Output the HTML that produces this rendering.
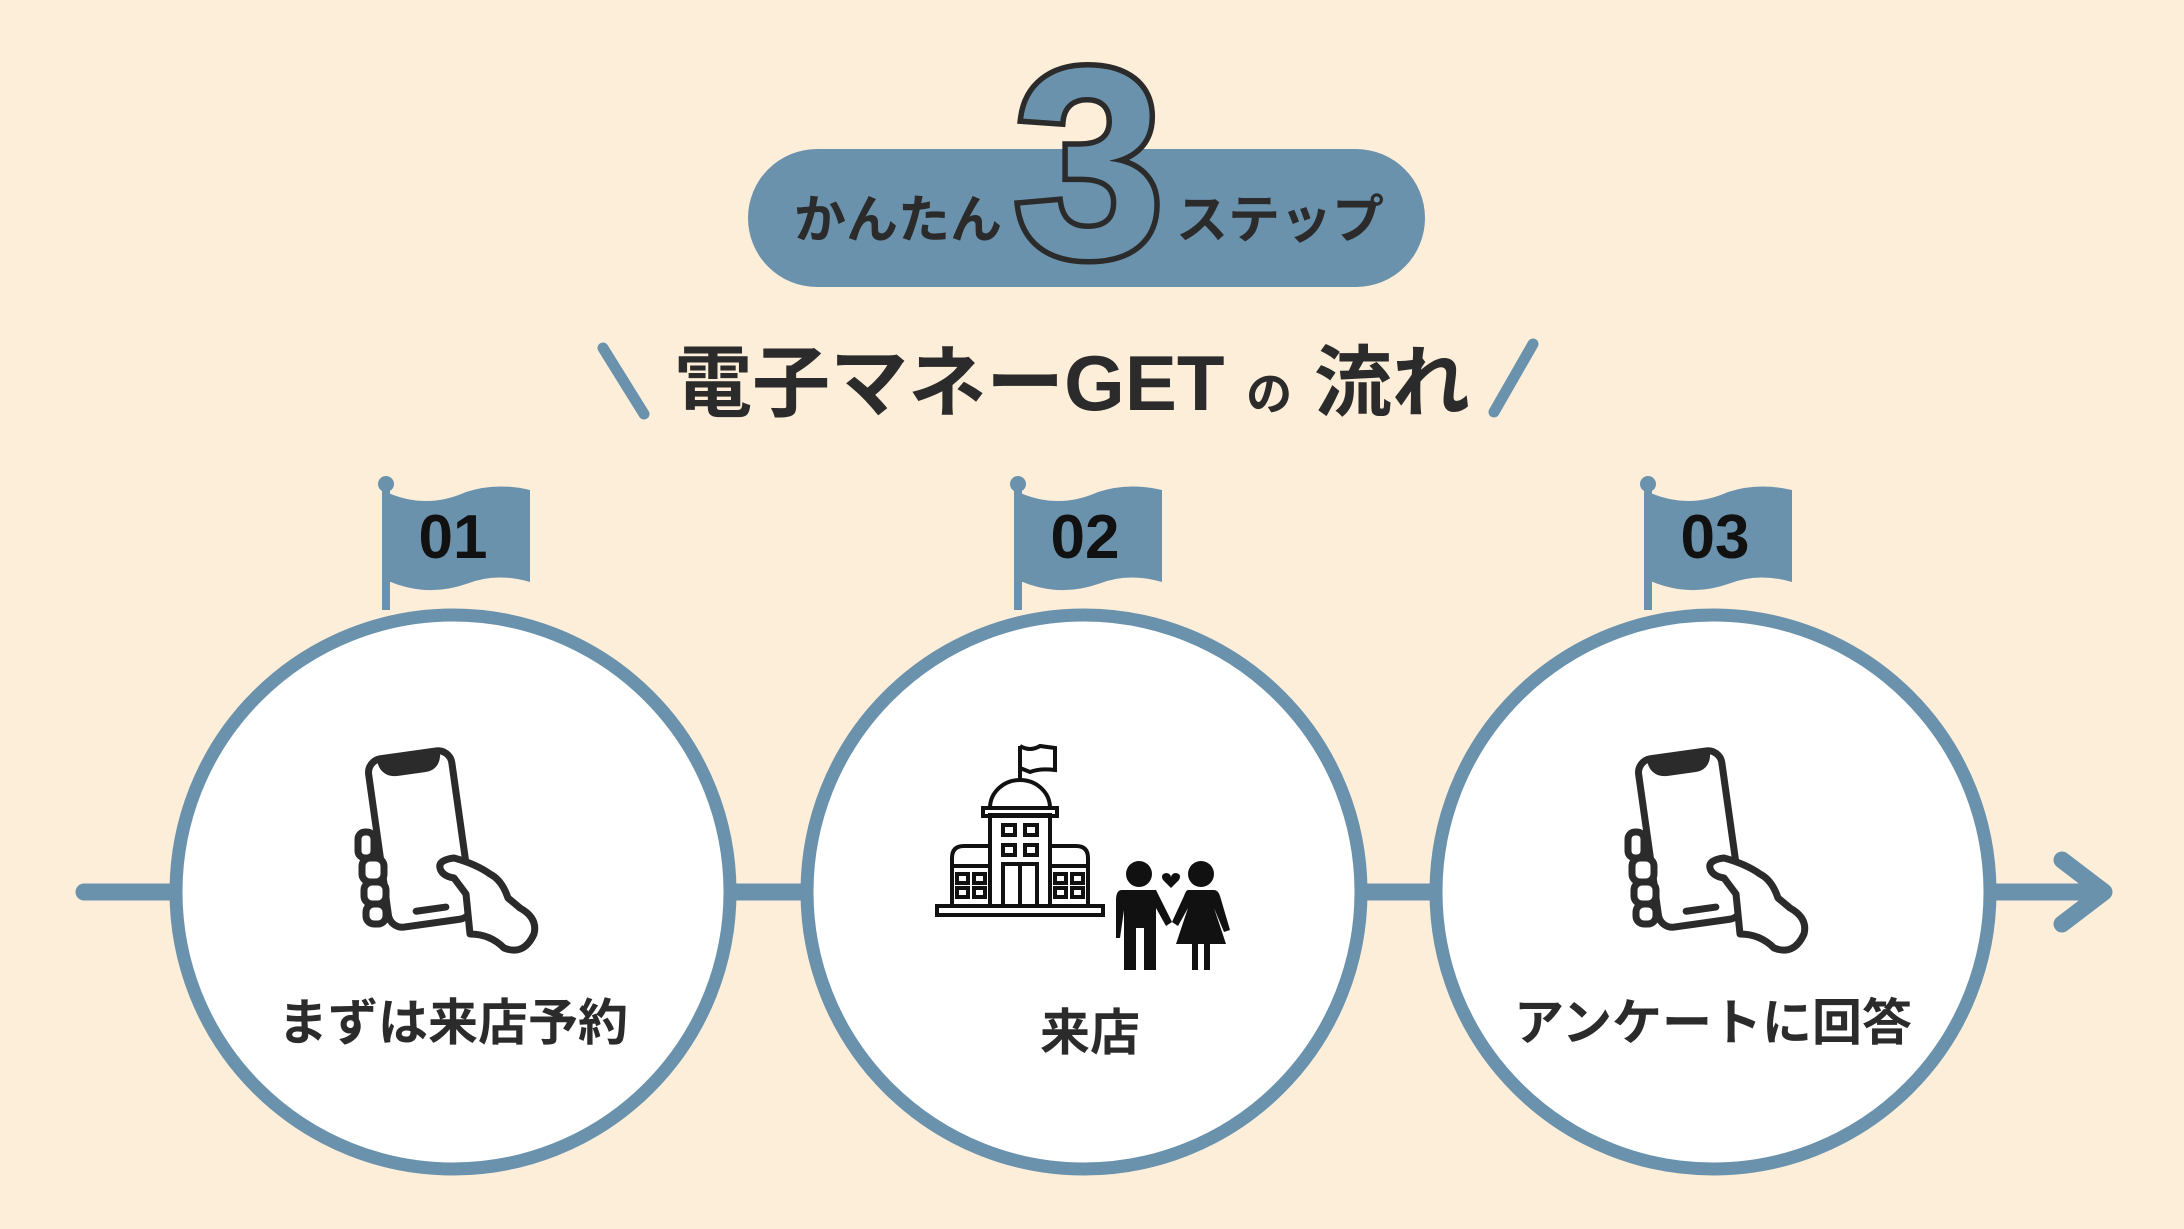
<!DOCTYPE html>
<html><head><meta charset="utf-8"><style>
html,body{margin:0;padding:0;background:#fdeed9;}
svg{display:block}
text{font-family:"Liberation Sans","Noto Sans CJK JP",sans-serif;font-weight:bold;}
</style></head><body>
<svg width="2184" height="1229" viewBox="0 0 2184 1229" xmlns="http://www.w3.org/2000/svg">
<rect width="2184" height="1229" fill="#fdeed9"/>
<defs>
<g id="phone">
  <g transform="rotate(-8 0 0)" fill="none" stroke="#2b2b2b" stroke-width="7" stroke-linejoin="round" stroke-linecap="round">
    <rect x="-42" y="-84" width="84" height="170" rx="14" fill="#fff"/>
    <path d="M-28 -80 Q-26 -68 -12 -68 L14 -68 Q26 -68 28 -80 Z" fill="#2b2b2b"/>
    <line x1="-14" y1="72" x2="16" y2="72"/>
  </g>
  <g fill="#fff" stroke="#2b2b2b" stroke-width="7" stroke-linejoin="round">
    <rect x="-62" y="-6" width="16" height="26" rx="7"/>
    <rect x="-58" y="20" width="22" height="24" rx="8"/>
    <rect x="-56" y="44" width="22" height="22" rx="8"/>
    <rect x="-54" y="66" width="20" height="20" rx="8"/>
    <path d="M34 20 Q18 22 20 30 Q22 38 34 40 L46 56 L50 96 Q70 96 84 110 Q104 118 114 96 Q118 80 100 70 L88 60 Q82 42 70 36 Q56 26 34 20 Z"/>
  </g>
</g>
</defs>

<line x1="84" y1="892" x2="2100" y2="892" stroke="#6a92ad" stroke-width="17" stroke-linecap="round"/>
<polyline points="2062,860 2104,892 2062,924" fill="none" stroke="#6a92ad" stroke-width="17" stroke-linecap="round" stroke-linejoin="round"/>

<rect x="748" y="149" width="677" height="138" rx="69" fill="#6a92ad"/>
<text x="898" y="238" font-size="52" fill="#2b2b2b" text-anchor="middle">かんたん</text>
<text x="1280" y="238" font-size="52" fill="#2b2b2b" text-anchor="middle">ステップ</text>
<text x="1089" y="256" font-size="270" fill="#6a92ad" stroke="#2b2b2b" stroke-width="11" text-anchor="middle" font-family="DejaVu Sans, sans-serif" style="paint-order:stroke">3</text>

<line x1="603" y1="348" x2="644" y2="414" stroke="#6a92ad" stroke-width="11" stroke-linecap="round"/>
<line x1="1533" y1="344" x2="1494" y2="412" stroke="#6a92ad" stroke-width="11" stroke-linecap="round"/>
<text x="1072" y="410" font-size="78" fill="#2b2b2b" text-anchor="middle">電子マネーGET <tspan font-size="46">の</tspan> 流れ</text>

<g fill="#6a92ad">
  <g transform="translate(386,0)">
    <rect x="-4" y="482" width="8" height="128"/><circle cx="0" cy="484" r="8"/>
    <path d="M0 492 Q40 510 80 492 Q110 482 144 490 L144 582 Q110 572 80 584 Q40 598 0 580 Z"/>
  </g>
  <g transform="translate(1018,0)">
    <rect x="-4" y="482" width="8" height="128"/><circle cx="0" cy="484" r="8"/>
    <path d="M0 492 Q40 510 80 492 Q110 482 144 490 L144 582 Q110 572 80 584 Q40 598 0 580 Z"/>
  </g>
  <g transform="translate(1648,0)">
    <rect x="-4" y="482" width="8" height="128"/><circle cx="0" cy="484" r="8"/>
    <path d="M0 492 Q40 510 80 492 Q110 482 144 490 L144 582 Q110 572 80 584 Q40 598 0 580 Z"/>
  </g>
</g>
<text x="453" y="558" font-size="62" fill="#111" text-anchor="middle">01</text>
<text x="1085" y="558" font-size="62" fill="#111" text-anchor="middle">02</text>
<text x="1715" y="558" font-size="62" fill="#111" text-anchor="middle">03</text>

<circle cx="453" cy="892" r="277" fill="#fff" stroke="#6a92ad" stroke-width="13"/>
<circle cx="1084" cy="892" r="277" fill="#fff" stroke="#6a92ad" stroke-width="13"/>
<circle cx="1713" cy="892" r="277" fill="#fff" stroke="#6a92ad" stroke-width="13"/>

<use href="#phone" transform="translate(420,838)"/>
<use href="#phone" transform="translate(1690,838)"/>

<g fill="none" stroke="#111" stroke-width="4">
  <rect x="937" y="906" width="166" height="9" fill="#fff"/>
  <rect x="990" y="815" width="60" height="91"/>
  <rect x="983" y="808" width="74" height="8"/>
  <path d="M990 808 A30 28 0 0 1 1050 808"/>
  <line x1="1020" y1="780" x2="1020" y2="746"/>
  <path d="M1020 746 Q1030 752 1040 746 L1055 748 L1055 770 Q1040 768 1030 772 L1020 768" />
  <path d="M952 906 V858 Q952 846 964 846 H990"/><line x1="952" y1="866" x2="990" y2="866"/>
  <path d="M1088 906 V858 Q1088 846 1076 846 H1050"/><line x1="1050" y1="866" x2="1088" y2="866"/>
  <rect x="1003" y="825" width="12" height="10"/><rect x="1025" y="825" width="12" height="10"/>
  <rect x="1003" y="845" width="12" height="10"/><rect x="1025" y="845" width="12" height="10"/>
  <rect x="1003" y="864" width="34" height="42"/><line x1="1020" y1="864" x2="1020" y2="906"/>
  <rect x="957" y="874" width="11" height="9"/><rect x="974" y="874" width="11" height="9"/>
  <rect x="957" y="888" width="11" height="9"/><rect x="974" y="888" width="11" height="9"/>
  <rect x="1055" y="874" width="11" height="9"/><rect x="1072" y="874" width="11" height="9"/>
  <rect x="1055" y="888" width="11" height="9"/><rect x="1072" y="888" width="11" height="9"/>
</g>
<g fill="#111">
  <circle cx="1139" cy="874" r="13"/>
  <path d="M1122 890 H1156 L1172 922 L1166 926 L1156 908 V970 H1144 V928 H1136 V970 H1124 V910 L1120 938 H1116 V900 Q1116 890 1122 890 Z"/>
  <circle cx="1201" cy="874" r="13"/>
  <path d="M1188 890 H1214 Q1218 890 1220 896 L1230 930 L1224 932 L1214 908 L1226 944 H1210 V970 H1204 V944 H1198 V970 H1192 V944 H1176 L1188 908 L1178 926 L1172 922 L1184 896 Q1186 890 1188 890 Z"/>
  <path d="M1171 888 L1163 880 Q1160 874 1166 873 Q1170 873 1171 877 Q1172 873 1176 873 Q1182 874 1179 880 Z"/>
</g>

<text x="453" y="1040" font-size="50" fill="#2b2b2b" text-anchor="middle">まずは来店予約</text>
<text x="1090" y="1050" font-size="50" fill="#2b2b2b" text-anchor="middle">来店</text>
<text x="1713" y="1040" font-size="50" fill="#2b2b2b" text-anchor="middle">アンケートに回答</text>
</svg>
</body></html>
